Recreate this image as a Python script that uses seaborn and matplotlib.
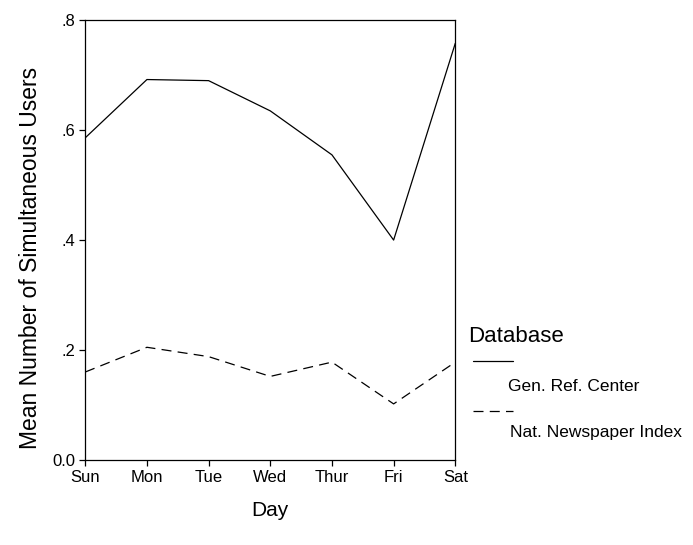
import matplotlib
matplotlib.use("Agg")
import matplotlib.pyplot as plt
import seaborn as sns
import pandas as pd

days = ["Sun", "Mon", "Tue", "Wed", "Thur", "Fri", "Sat"]
gen_ref = [0.586, 0.692, 0.69, 0.635, 0.555, 0.40, 0.758]
nat_news = [0.16, 0.205, 0.188, 0.152, 0.178, 0.102, 0.178]
series_names = ["Gen. Ref. Center", "Nat. Newspaper Index"]
y_ticks = [0.0, 0.2, 0.4, 0.6, 0.8]
y_tick_labels = ["0.0", ".2", ".4", ".6", ".8"]

df = pd.DataFrame({
    "Day": days * 2,
    "Users": gen_ref + nat_news,
    "Database": [series_names[0]] * len(days) + [series_names[1]] * len(days),
})
df["pos"] = list(range(len(days))) * 2

sns.set_style("ticks", rc={"text.color": "black", "axes.labelcolor": "black",
                           "xtick.color": "black", "ytick.color": "black",
                           "axes.edgecolor": "black"})
plt.rcParams["font.family"] = ["Liberation Sans", "DejaVu Sans"]

fig = plt.figure(figsize=(6.93, 5.45), dpi=100)
ax = fig.add_axes([0.123, 0.156, 0.534, 0.807])

sns.lineplot(data=df, x="pos", y="Users", hue="Database", style="Database",
             palette=["black", "black"],
             dashes={series_names[0]: "", series_names[1]: (8, 5)},
             linewidth=0.9, legend=False, ax=ax)

ax.set_xlim(0, len(days) - 1)
ax.set_ylim(0, 0.8)
ax.set_xticks(range(len(days)))
ax.set_xticklabels(days, fontsize=12)
ax.set_yticks(y_ticks)
ax.set_yticklabels(y_tick_labels, fontsize=12)
ax.tick_params(direction="out", length=4, width=0.9, pad=3)
for s in ax.spines.values():
    s.set_visible(True)
    s.set_linewidth(0.9)

ax.set_xlabel("Day", fontsize=15, labelpad=12)
ax.set_ylabel("Mean Number of Simultaneous Users", fontsize=16.5)
ax.yaxis.set_label_coords(-0.116, 0.46)

# legend: line handles with the names set below them, like the original
lines = ax.get_lines()
leg = ax.legend(handles=lines[:2], labels=["", ""], frameon=False,
                loc="center left", bbox_to_anchor=(0.6825, 0.29),
                bbox_transform=fig.transFigure, borderaxespad=0, borderpad=0,
                handlelength=2.4, labelspacing=2.1, fontsize=12)
fig.text(0.675, 0.383, "Database", fontsize=16, va="center")
fig.text(0.733, 0.29, series_names[0], fontsize=12.5, va="center")
fig.text(0.736, 0.206, series_names[1], fontsize=12.5, va="center")

fig.savefig("out.png", dpi=100, facecolor="white")
